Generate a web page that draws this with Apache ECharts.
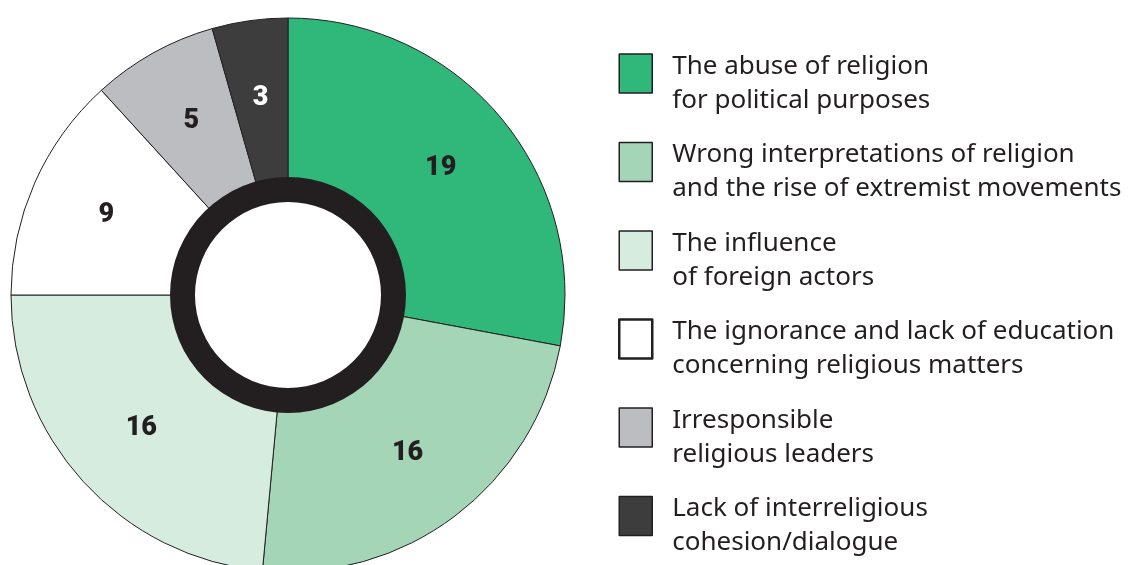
<!DOCTYPE html>
<html>
<head>
<meta charset="utf-8">
<script src="https://cdn.jsdelivr.net/npm/echarts@6/dist/echarts.min.js"></script>
<style>
  html, body { margin: 0; padding: 0; background: #fff; }
  #chart { width: 1147px; height: 565px; }
</style>
</head>
<body>
<div id="chart"></div>
<script>
var categories = [
    'The abuse of religion\nfor political purposes',
    'Wrong interpretations of religion\nand the rise of extremist movements',
    'The influence\nof foreign actors',
    'The ignorance and lack of education\nconcerning religious matters',
    'Irresponsible\nreligious leaders',
    'Lack of interreligious\ncohesion/dialogue'
];
var values = [19, 16, 16, 9, 5, 3];
var colors = ['#2fb879', '#a3d5b6', '#d6ecdf', '#ffffff', '#bcbdc1', '#3d3d3e'];
var labelColors = ['#231f20', '#231f20', '#231f20', '#231f20', '#231f20', '#ffffff'];

var chart = echarts.init(document.getElementById('chart'));

var pieData = categories.map(function (name, i) {
    return {
        name: name,
        value: values[i],
        itemStyle: { color: colors[i] },
        label: { color: labelColors[i] }
    };
});

var legendData = categories.map(function (name, i) {
    return {
        name: name,
        itemStyle: { borderWidth: i === 3 ? 2.5 : 1.5 }
    };
});

var options = {
    animation: false,
    legend: {
        orient: 'vertical',
        left: 618,
        top: 39,
        padding: 0,
        icon: 'rect',
        itemWidth: 33,
        itemHeight: 39,
        itemGap: 14,
        selectedMode: false,
        itemStyle: { borderColor: '#231f20', borderWidth: 1.5 },
        // empty half line on top pushes the two text lines below the box centre
        formatter: function (name) {
            return '{s| }\n' + name.split('\n').map(function (l) {
                return '{t|' + l + '}';
            }).join('\n');
        },
        textStyle: {
            padding: [0, 0, 0, 15],
            rich: {
                s: { fontSize: 1, lineHeight: 20 },
                t: {
                    fontFamily: 'Noto Sans',
                    fontSize: 26,
                    lineHeight: 34,
                    color: '#231f20'
                }
            }
        },
        data: legendData
    },
    series: [
        {
            type: 'pie',
            center: [288, 295],
            radius: [114, 277],
            startAngle: 90,
            clockwise: true,
            silent: true,
            itemStyle: { borderColor: '#231f20', borderWidth: 1 },
            label: {
                show: true,
                position: 'inside',
                formatter: '{c}',
                fontFamily: 'Roboto',
                fontWeight: 900,
                fontSize: 27
            },
            labelLine: { show: false },
            data: pieData
        },
        {
            // black ring in the middle
            type: 'pie',
            center: [288, 295],
            radius: [93, 118],
            silent: true,
            label: { show: false },
            labelLine: { show: false },
            itemStyle: { color: '#231f20', borderWidth: 0 },
            data: [{ value: 1, name: 'ring' }]
        }
    ]
};
chart.setOption(options);
</script>
</body>
</html>
